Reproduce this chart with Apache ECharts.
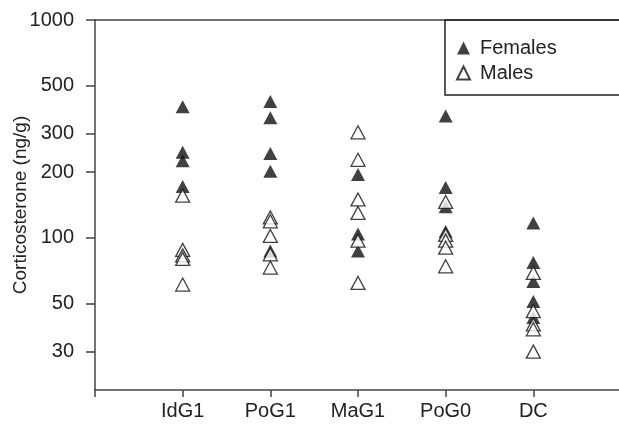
<!DOCTYPE html>
<html>
<head>
<meta charset="utf-8">
<script src="https://cdn.jsdelivr.net/npm/echarts@6/dist/echarts.min.js"></script>
<style>
	html, body { margin: 0; padding: 0; background: #fff; }
	#chart { width: 619px; height: 425px; }
</style>
</head>
<body>
<div id="chart"></div>
<script>
// 分组（横轴类别）
var categories = ['IdG1', 'PoG1', 'MaG1', 'PoG0', 'DC'];
// 纵轴刻度
var yTicks = [30, 50, 100, 200, 300, 500, 1000];
// 雌性各组数值
var females = [
	[400, 247, 226, 172],
	[422, 356, 244, 202, 87],
	[195, 104, 87],
	[362, 170, 139, 107],
	[117, 77, 63, 51, 43]
];
// 雄性各组数值
var males = [
	[156, 88, 83, 80, 61],
	[124, 119, 102, 84, 73],
	[305, 228, 150, 130, 97, 62],
	[146, 103, 97, 90, 74],
	[69, 46, 40, 38, 30]
];

var font = 'Liberation Sans, Arial, sans-serif';

// 转成散点数据 [x, y]
function toPoints(groups) {
	var pts = [];
	for (var i = 0; i < groups.length; i++) {
		for (var j = 0; j < groups[i].length; j++) {
			pts.push([i + 1, groups[i][j]]);
		}
	}
	return pts;
}

var myChart = echarts.init(document.getElementById('chart'));

var option = {
	animation : false,
	grid : {
		left : 95,
		right : -2,
		top : 20,
		bottom : 35,
		containLabel : false,
		outerBoundsMode : 'none'
	},
	legend : {
		orient : 'vertical',
		left : 445,
		top : 20,
		padding : [18, 80, 12, 11],
		itemGap : 5,
		itemWidth : 13,
		itemHeight : 13,
		borderColor : '#222',
		borderWidth : 1.5,
		textStyle : {
			fontFamily : font,
			fontSize : 20,
			color : '#222',
			padding : [0, 0, 0, 5]
		},
		data : [
			{ name : 'Females', icon : 'triangle' },
			{ name : 'Males', icon : 'triangle' }
		]
	},
	xAxis : [{
		type : 'value',
		min : 0,
		max : 6,
		interval : 1,
		splitLine : { show : false },
		axisLine : { lineStyle : { color : '#444', width : 1.5 } },
		axisTick : { length : 7, lineStyle : { color : '#444', width : 1.5 } },
		axisLabel : {
			margin : 11,
			fontFamily : font,
			fontSize : 20,
			color : '#222',
			formatter : function(v) {
				return categories[v - 1] || '';
			}
		}
	}, {
		// 顶部边线
		type : 'value',
		position : 'top',
		min : 0,
		max : 6,
		splitLine : { show : false },
		axisLine : { show : true, lineStyle : { color : '#444', width : 1.5 } },
		axisTick : { show : false },
		axisLabel : { show : false }
	}],
	yAxis : {
		type : 'log',
		logBase : 10,
		min : 20,
		max : 1000,
		name : 'Corticosterone (ng/g)',
		nameLocation : 'middle',
		nameGap : 65,
		nameMoveOverlap : false,
		nameTextStyle : {
			fontFamily : font,
			fontSize : 19,
			color : '#222'
		},
		splitLine : { show : false },
		axisLine : { lineStyle : { color : '#444', width : 1.5 } },
		axisTick : {
			length : 9,
			customValues : yTicks,
			lineStyle : { color : '#444', width : 1.5 }
		},
		axisLabel : {
			margin : 21,
			customValues : yTicks,
			fontFamily : font,
			fontSize : 20,
			color : '#222',
			formatter : function(v) {
				return String(Math.round(v));
			}
		}
	},
	series : [{
		name : 'Females',
		type : 'scatter',
		symbol : 'triangle',
		symbolSize : [14, 13],
		itemStyle : { color : '#111' },
		data : toPoints(females)
	}, {
		name : 'Males',
		type : 'scatter',
		symbol : 'triangle',
		symbolSize : [14, 13],
		itemStyle : {
			color : '#fff',
			borderColor : '#111',
			borderWidth : 1.3
		},
		data : toPoints(males)
	}]
};
myChart.setOption(option);
</script>
</body>
</html>
